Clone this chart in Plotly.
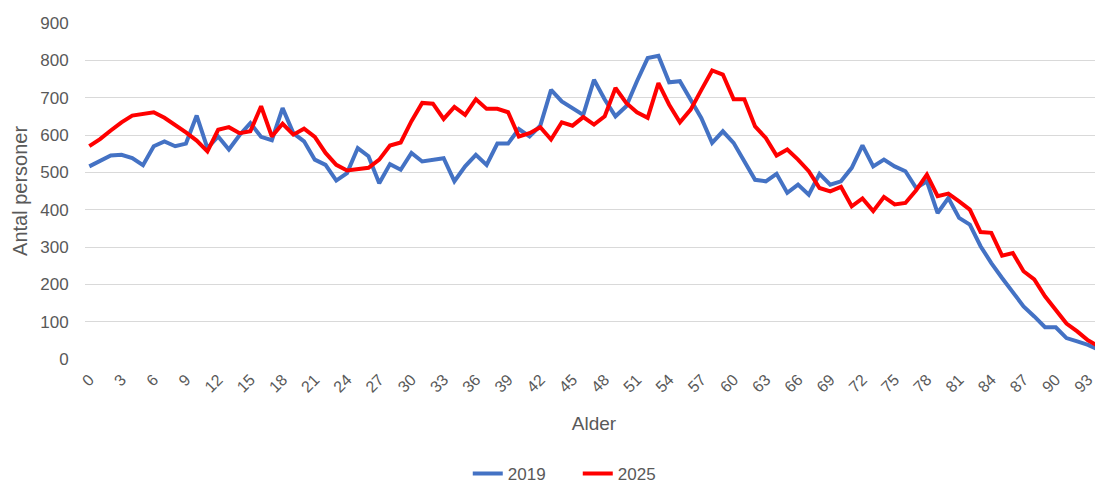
import plotly.graph_objects as go

ages = list(range(0, 96))

pop_2019 = [516, 531, 545, 547, 538, 519, 570, 583, 570, 577,
            652, 565, 596, 561, 600, 632, 595, 586, 672, 605,
            583, 534, 520, 478, 498, 565, 543, 471, 522, 507,
            552, 529, 534, 538, 476, 516, 547, 520, 577, 577,
            616, 596, 625, 721, 690, 672, 654, 748, 695, 650,
            677, 744, 806, 812, 741, 744, 695, 645, 579, 610,
            579, 529, 480, 476, 496, 445, 467, 440, 496, 467,
            476, 512, 572, 516, 534, 516, 503, 458, 476, 391,
            431, 378, 360, 302, 257, 217, 177, 141, 114, 85,
            85, 56, 47, 38, 25, 18]

pop_2025 = [570, 589, 612, 634, 652, 656, 661, 646, 628, 607,
            585, 556, 614, 621, 605, 610, 677, 596, 630, 601,
            617, 595, 552, 520, 505, 509, 512, 534, 572, 580,
            637, 686, 684, 643, 675, 654, 696, 670, 670, 661,
            596, 605, 621, 588, 634, 625, 648, 628, 650, 726,
            686, 661, 646, 739, 681, 634, 668, 721, 773, 762,
            696, 696, 623, 592, 545, 561, 534, 503, 458, 449,
            461, 409, 430, 396, 434, 414, 418, 452, 494, 436,
            443, 422, 400, 340, 338, 277, 284, 235, 213, 168,
            132, 95, 74, 50, 34, 75]

tick_vals = list(range(0, 94, 3))
tick_text = [str(v) for v in tick_vals]
y_ticks = list(range(0, 901, 100))

FONT = "Liberation Sans"
GREY = "#595959"
CLEAR = "rgba(0,0,0,0)"

fig = go.Figure()
fig.add_trace(go.Scatter(x=ages, y=pop_2019, mode="lines", name="2019",
                         line=dict(color="#4472C4", width=4)))
fig.add_trace(go.Scatter(x=ages, y=pop_2025, mode="lines", name="2025",
                         line=dict(color="#FF0000", width=4)))

# the page body adds an 8px offset; the figure is sized to fill the rest of the window
fig.update_layout(
    width=1095, height=477,
    margin=dict(l=77, r=0, t=15, b=126, autoexpand=False),
    plot_bgcolor="white", paper_bgcolor="white",
    font=dict(family=FONT, size=16, color=GREY),
    showlegend=True,
    legend=dict(orientation="h", x=0.376, xanchor="left",
                y=-0.342, yanchor="middle", entrywidth=65,
                font=dict(size=17, color=GREY)),
    xaxis=dict(range=[-0.4, 94.4], tickmode="array", tickvals=tick_vals, ticktext=tick_text,
               tickangle=-45, showgrid=False, zeroline=False, showline=False,
               ticks="outside", ticklen=4, tickcolor=CLEAR, automargin=False,
               tickfont=dict(size=16, color=GREY),
               title=dict(text="Alder", font=dict(size=19, color=GREY), standoff=22)),
    yaxis=dict(range=[0, 900], tickmode="array", tickvals=y_ticks,
               showgrid=True, gridcolor="#d9d9d9", gridwidth=1, zeroline=False,
               showline=False, ticks="outside", ticklen=12, tickcolor=CLEAR, automargin=False,
               tickfont=dict(size=17, color=GREY)),
    annotations=[dict(text="Antal personer", xref="paper", yref="paper",
                      x=-0.0639, y=0.5, xanchor="center", yanchor="middle",
                      textangle=-90, showarrow=False,
                      font=dict(size=20, color=GREY))],
)

fig.write_html("out.html")
